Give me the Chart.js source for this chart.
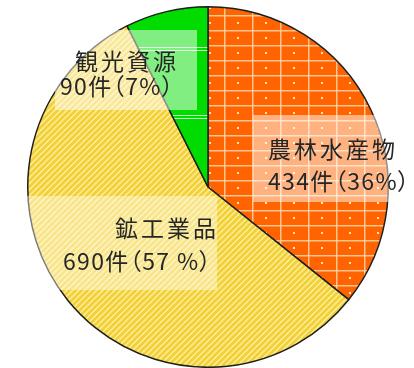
<!DOCTYPE html>
<html lang="ja">
<head>
<meta charset="utf-8">
<script src="https://cdn.jsdelivr.net/npm/chart.js@4.4.1/dist/chart.umd.min.js"></script>
<style>
    html, body { margin: 0; padding: 0; background: #fff; }
    #wrap { position: relative; width: 414px; height: 368px; overflow: hidden; }
    #chart { position: absolute; left: 0; top: 0; }
    .box { position: absolute; background: rgba(255, 255, 255, 0.5); }
    .line {
        position: absolute;
        font-family: 'Noto Sans CJK JP', 'Noto Sans', sans-serif;
        font-size: 23px;
        line-height: 1;
        color: #262626;
        white-space: nowrap;
        font-feature-settings: 'palt';
    }
    .name { letter-spacing: 3px; }
    .count { letter-spacing: 1.3px; }
</style>
</head>
<body>
<div id="wrap">
    <canvas id="chart" width="414" height="368"></canvas>
    <div class="box" style="left:253px; top:115px; width:170px; height:87px;"></div>
    <div class="box" style="left:55px; top:30px; width:142px; height:80px;"></div>
    <div class="box" style="left:25px; top:196px; width:192px; height:94px; background:rgba(255,255,255,0.42);"></div>
    <div class="line name" id="name-0" style="left:268px; top:137px;"></div>
    <div class="line count" id="count-0" style="left:268px; top:169px;"></div>
    <div class="line name" id="name-1" style="left:115px; top:216px;"></div>
    <div class="line count" id="count-1" style="left:63px; top:249px;"></div>
    <div class="line name" id="name-2" style="left:75px; top:49px;"></div>
    <div class="line count" id="count-2" style="left:60px; top:74px;"></div>
</div>
<script>
// 件数と割合（12時から時計回り）
const categories = ['農林水産物', '鉱工業品', '観光資源'];
const counts = [434, 690, 90];
const percentLabels = ['36%', '57 %', '7%'];

function makeTile(w, h, draw) {
    const c = document.createElement('canvas');
    c.width = w;
    c.height = h;
    draw(c.getContext('2d'), w, h);
    return document.createElement('canvas').getContext('2d').createPattern(c, 'repeat');
}

const orangeFill = makeTile(28, 15, (ctx, w, h) => {
    ctx.fillStyle = '#ff6400';
    ctx.fillRect(0, 0, w, h);
    ctx.fillStyle = 'rgba(255, 214, 170, 0.85)';
    ctx.fillRect(0, 0, w, 1.5);
    ctx.fillRect(0, 0, 1.5, h);
    ctx.fillStyle = '#ffe6b0';
    ctx.fillRect(13, 7, 2, 2);
});

const yellowFill = makeTile(6, 6, (ctx, w, h) => {
    ctx.fillStyle = '#fff0a4';
    ctx.fillRect(0, 0, w, h);
    ctx.strokeStyle = '#f2d038';
    ctx.lineWidth = 3;
    ctx.beginPath();
    ctx.moveTo(-1, h + 1); ctx.lineTo(w + 1, -1);
    ctx.moveTo(-1, 1); ctx.lineTo(1, -1);
    ctx.moveTo(w - 1, h + 1); ctx.lineTo(w + 1, h - 1);
    ctx.stroke();
});

const greenFill = makeTile(20, 68, (ctx, w, h) => {
    ctx.fillStyle = '#00dc00';
    ctx.fillRect(0, 0, w, h);
    ctx.fillStyle = 'rgba(220, 255, 220, 0.9)';
    ctx.fillRect(0, 47, w, 1);
    ctx.fillRect(0, 50, w, 1);
});

categories.forEach((name, i) => {
    document.getElementById('name-' + i).textContent = name;
    document.getElementById('count-' + i).textContent = counts[i] + '件（' + percentLabels[i] + '）';
});

new Chart(document.getElementById('chart'), {
    type: 'pie',
    data: {
        labels: categories,
        datasets: [{
            data: counts,
            backgroundColor: [orangeFill, yellowFill, greenFill],
            borderColor: '#1e1e1e',
            borderWidth: 1.5,
            hoverOffset: 0,
        }],
    },
    options: {
        responsive: false,
        animation: false,
        devicePixelRatio: 1,
        layout: { padding: { left: 2, right: 0, top: 6, bottom: 0 } },
        plugins: {
            legend: { display: false },
            tooltip: { enabled: false },
        },
    },
});
</script>
</body>
</html>
